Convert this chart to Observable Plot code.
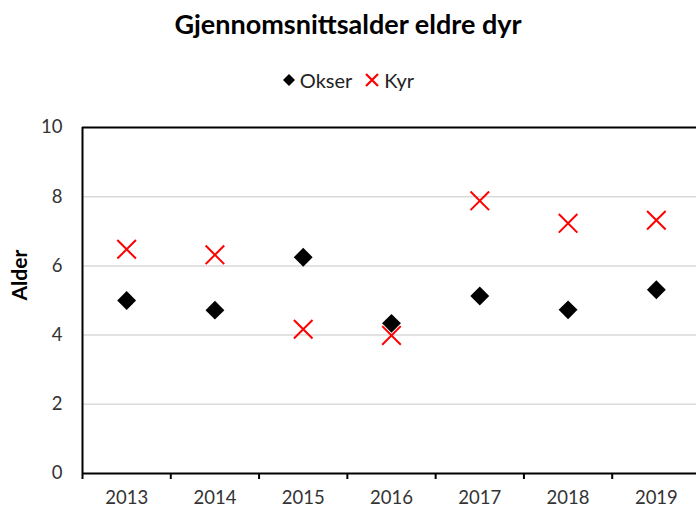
<!DOCTYPE html>
<html>
<head>
<meta charset="utf-8">
<script src="https://cdn.jsdelivr.net/npm/d3@7"></script>
<script src="https://cdn.jsdelivr.net/npm/@observablehq/plot@0.6"></script>
<style>
  html, body { margin: 0; padding: 0; background: #fff; overflow: hidden; }
  #wrap { position: relative; width: 696px; height: 510px; font-family: Lato, "Open Sans", sans-serif; }
  #title { position: absolute; left: 0; top: 0; width: 696px; height: 48px; line-height: 48px; text-align: center;
           font-weight: bold; font-size: 27px; color: #000; }
  #legend { position: absolute; left: 0; top: 66px; width: 696px; height: 28px; display: flex; justify-content: center;
            align-items: center; font-size: 20px; color: #222; }
  #legend .item { display: flex; align-items: center; margin: 0 6px; }
  #legend svg { margin-right: 4px; }
  #chart { position: absolute; left: 0; top: 100px; }
</style>
</head>
<body>
<div id="wrap">
  <div id="title">Gjennomsnittsalder eldre dyr</div>
  <div id="legend"></div>
  <div id="chart"></div>
</div>
<script>
const years = [2013, 2014, 2015, 2016, 2017, 2018, 2019];
const okser = [5.0, 4.72, 6.25, 4.34, 5.13, 4.73, 5.31];
const kyr = [6.48, 6.32, 4.17, 3.99, 7.88, 7.23, 7.32];
const yTicks = [0, 2, 4, 6, 8, 10];
const gridTicks = [2, 4, 6, 8];
const seriesNames = ["Okser", "Kyr"];
const yLabel = "Alder";

const okserData = years.map((year, i) => ({year, value: okser[i]}));
const kyrData = years.map((year, i) => ({year, value: kyr[i]}));
const boundaries = years.map(y => y - 0.5).concat([years[years.length - 1] + 0.5]);

// legend
const legend = document.getElementById("legend");
legend.innerHTML =
  `<span class="item"><svg width="14" height="14" viewBox="-7 -7 14 14"><path d="M0,-6L6,0L0,6L-6,0Z" fill="#000"/></svg>${seriesNames[0]}</span>` +
  `<span class="item"><svg width="16" height="16" viewBox="-8 -8 16 16"><path d="M-6,-6L6,6M6,-6L-6,6" stroke="#ff0000" stroke-width="2.2"/></svg>${seriesNames[1]}</span>`;

const chart = Plot.plot({
  width: 696,
  height: 410,
  marginTop: 27,
  marginBottom: 37,
  marginLeft: 82,
  marginRight: 0,
  x: {type: "linear", domain: [years[0] - 0.5, years[years.length - 1] + 0.5], range: [82, 700]},
  y: {domain: [0, 10]},
  style: {fontFamily: "Lato, 'Open Sans', sans-serif", fontSize: "18.5px", color: "#333", background: "#fff"},
  marks: [
    Plot.gridY(gridTicks, {stroke: "#d9d9d9", strokeOpacity: 1, strokeWidth: 1.5}),
    Plot.ruleY([0, 10], {stroke: "#000", strokeWidth: 2}),
    Plot.ruleX([boundaries[0]], {stroke: "#000", strokeWidth: 2}),
    Plot.axisX(boundaries, {tickSize: 6, tickFormat: () => "", stroke: "#000", strokeWidth: 2, label: null}),
    Plot.axisX(years, {tickSize: 0, tickPadding: 17, tickFormat: d => String(d), label: null}),
    Plot.axisY(yTicks, {tickSize: 0, tickPadding: 20, label: null}),
    Plot.text([yLabel], {frameAnchor: "left", rotate: -90, dx: -62, fontWeight: "bold", fontSize: 21, fill: "#000"}),
    Plot.dot(okserData, {x: "year", y: "value", symbol: "diamond2", r: 8.5, fill: "#000", stroke: null}),
    Plot.dot(kyrData, {x: "year", y: "value", symbol: "times", r: 8.5, stroke: "#ff0000", strokeWidth: 2})
  ]
});
document.getElementById("chart").appendChild(chart);
</script>
</body>
</html>
